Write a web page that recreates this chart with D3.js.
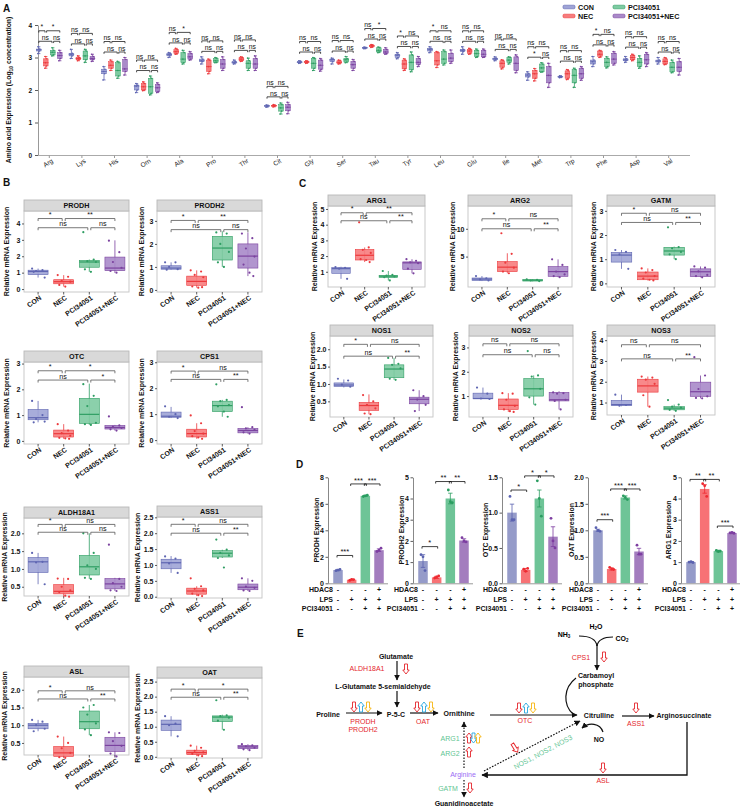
<!DOCTYPE html>
<html><head><meta charset="utf-8">
<script src="https://cdn.jsdelivr.net/npm/d3@7"></script>
<style>body{margin:0;background:#fff}svg{display:block;font-family:"Liberation Sans",Arial,sans-serif}</style>
</head><body><svg id="fig" width="740" height="809"></svg>
<script>
// ---------------- DATA ----------------
const groups = ["CON","NEC","PCI34051","PCI34051+NEC"];
const aminoAcids = ["Arg","Lys","His","Orn","Ala","Pro","Thr","Cit","Gly","Ser","Tau","Tyr","Leu","Glu","Ile","Met","Trp","Phe","Asp","Val"];
const aTicks = [0,1,2,3,4];
// [min, q1, median, q3, max] (Log10 concentration)
const aaCON = [[3.12,3.2,3.24,3.26,3.33],[2.97,3.05,3.1,3.13,3.25],[2.31,2.5,2.57,2.64,2.72],[1.92,2.0,2.12,2.15,2.2],[3.0,3.05,3.09,3.12,3.15],[2.8,2.87,2.9,2.95,3.02],[2.8,2.83,2.84,2.88,2.92],[1.47,1.49,1.51,1.52,1.54],[2.82,2.84,2.85,2.88,2.9],[2.8,2.87,2.93,2.95,2.98],[3.27,3.28,3.3,3.31,3.32],[2.96,3.0,3.07,3.1,3.15],[3.15,3.2,3.25,3.28,3.33],[3.1,3.18,3.22,3.25,3.33],[2.9,2.93,2.96,2.98,3.02],[2.3,2.4,2.46,2.5,2.56],[2.38,2.39,2.41,2.42,2.44],[2.72,2.8,2.87,2.92,3.03],[2.85,2.9,2.93,2.96,3.03],[2.8,2.86,2.89,2.92,3.0]];
const aaNEC = [[2.67,2.74,2.84,2.96,3.03],[2.9,2.93,2.97,3.0,3.05],[2.6,2.67,2.76,2.87,2.92],[1.98,2.0,2.1,2.2,2.25],[3.1,3.12,3.18,3.24,3.28],[2.5,2.57,2.72,2.92,2.95],[2.88,2.9,2.95,3.0,3.02],[1.48,1.5,1.52,1.53,1.55],[2.82,2.84,2.86,2.88,2.9],[2.8,2.82,2.85,2.9,2.92],[3.31,3.33,3.36,3.38,3.4],[2.6,2.65,2.8,2.92,2.96],[2.69,2.77,2.9,3.15,3.18],[3.1,3.13,3.2,3.25,3.28],[2.65,2.7,2.82,2.9,2.93],[2.28,2.36,2.5,2.6,2.66],[2.32,2.36,2.5,2.59,2.63],[3.0,3.04,3.1,3.2,3.22],[2.9,2.93,3.0,3.07,3.1],[2.78,2.8,2.88,2.96,3.0]];
const aaPCI = [[3.05,3.08,3.16,3.22,3.3],[2.85,2.93,3.05,3.2,3.25],[2.36,2.43,2.6,2.84,2.88],[1.85,1.9,2.1,2.36,2.43],[2.8,2.84,2.95,3.15,3.22],[2.84,2.85,2.9,2.97,3.0],[2.6,2.67,2.82,2.9,2.98],[1.26,1.35,1.45,1.55,1.6],[2.6,2.67,2.82,2.97,3.0],[2.84,2.86,2.93,2.97,3.03],[3.15,3.17,3.22,3.3,3.32],[2.56,2.62,2.85,3.08,3.17],[2.77,2.82,2.95,3.18,3.23],[3.0,3.03,3.12,3.22,3.26],[2.8,2.85,2.92,3.0,3.02],[2.55,2.56,2.68,2.8,2.84],[2.08,2.22,2.45,2.63,2.67],[2.68,2.72,2.85,2.97,3.02],[2.67,2.72,2.85,2.97,3.05],[2.53,2.56,2.7,2.85,2.92]];
const aaPN = [[2.9,2.97,3.06,3.15,3.22],[2.88,2.93,2.97,3.03,3.1],[2.46,2.57,2.65,2.94,3.0],[1.92,1.95,2.07,2.17,2.22],[2.92,2.95,3.02,3.12,3.18],[2.6,2.67,2.8,2.94,3.02],[2.6,2.67,2.8,2.97,3.05],[1.27,1.36,1.47,1.55,1.62],[2.58,2.64,2.76,2.92,2.97],[2.6,2.67,2.78,2.88,2.94],[3.1,3.12,3.17,3.25,3.3],[2.72,2.78,2.85,2.97,3.03],[2.82,2.87,2.98,3.13,3.23],[3.0,3.02,3.1,3.22,3.26],[2.53,2.6,2.82,3.02,3.08],[2.08,2.22,2.45,2.72,2.82],[2.3,2.36,2.5,2.67,2.72],[2.77,2.82,2.95,3.13,3.18],[2.72,2.8,2.93,3.1,3.15],[2.46,2.57,2.7,2.87,2.97]];
// [CON-NEC, NEC-PCI34051+NEC, CON-PCI34051, PCI34051-PCI34051+NEC]
const aaSig = [["*","*","ns","ns"],["ns","ns","ns","ns"],["ns","ns","ns","ns"],["ns","ns","ns","ns"],["ns","*","ns","ns"],["ns","ns","ns","ns"],["ns","ns","ns","ns"],["ns","ns","ns","ns"],["ns","ns","ns","ns"],["ns","ns","ns","ns"],["ns","*","ns","ns"],["*","ns","ns","ns"],["*","ns","ns","ns"],["ns","ns","ns","ns"],["ns","ns","ns","ns"],["ns","ns","*","ns"],["ns","ns","ns","ns"],["*","ns","ns","ns"],["ns","ns","ns","ns"],["ns","ns","ns","ns"]];

// Panels B & C: box stats per group [min,q1,med,q3,max], individual points, significance, bracket levels
const PRODH_box = [[0.7,0.88,1.07,1.15,1.25],[0.15,0.32,0.45,0.57,0.85],[1.05,1.33,1.65,1.75,1.8],[0.98,1.12,1.28,1.95,2.97]];
const PRODH_pts = [[1.25,1.15,1.1,0.7,1.05],[0.85,0.75,0.5,0.45,0.25,0.15],[3.47,1.8,1.7,1.65,1.2,1.05],[2.95,2.25,1.65,1.3,1.1,1.0]];
const PRODH_sig = ["*","**","ns","ns"], PRODH_sigY = [4.3,3.74];
const PRODH2_box = [[0.88,0.9,0.95,1.05,1.2],[0.1,0.2,0.37,0.6,0.85],[1.0,1.3,1.82,2.33,2.55],[0.6,0.95,1.47,2.0,2.5]];
const PRODH2_pts = [[1.2,1.2,1.0,0.9,0.88],[0.85,0.8,0.65,0.55,0.15,0.1,0.12],[2.5,2.45,2.0,1.65,1.2,1.0],[2.45,2.25,1.8,1.45,1.1,0.75,0.6]];
const PRODH2_sig = ["*","**","ns","ns"], PRODH2_sigY = [3.02,2.62];
const OTC_box = [[0.72,0.82,0.9,1.22,1.55],[0.08,0.15,0.28,0.42,0.65],[0.62,0.68,1.03,1.65,2.22],[0.4,0.46,0.52,0.6,0.62]];
const OTC_pts = [[1.55,1.0,0.85,0.75,0.72],[0.65,0.4,0.3,0.2,0.12,0.1,0.08],[2.2,1.75,1.35,0.7,0.65,0.62],[0.95,0.6,0.55,0.5,0.45,0.4]];
const OTC_sig = ["*","*","ns","*"], OTC_sigY = [2.72,2.36];
const CPS1_box = [[0.85,0.88,0.92,1.08,1.28],[0.05,0.12,0.25,0.42,0.65],[0.9,1.1,1.33,1.5,1.55],[0.25,0.28,0.37,0.45,0.5]];
const CPS1_pts = [[1.3,1.0,0.9,0.85],[0.95,0.65,0.35,0.25,0.15,0.1,0.05],[2.15,1.55,1.5,1.35,1.3,1.1,0.9],[1.27,0.5,0.45,0.4,0.3,0.25]];
const CPS1_sig = ["*","ns","ns","**"], CPS1_sigY = [2.66,2.34];
const ALDH_box = [[0.57,0.9,1.2,1.32,1.45],[0.22,0.3,0.37,0.56,0.75],[0.72,0.83,1.06,1.38,2.0],[0.38,0.44,0.58,0.73,0.75]];
const ALDH_pts = [[1.45,1.2,1.18,0.57],[0.73,0.72,0.5,0.4,0.35,0.25,0.22],[2.0,1.45,1.1,1.0,0.75,0.72],[1.68,0.72,0.6,0.5,0.4,0.38]];
const ALDH_sig = ["*","ns","ns","ns"], ALDH_sigY = [2.25,2.03];
const ASS1_box = [[0.75,0.88,1.07,1.18,1.28],[0.02,0.08,0.18,0.27,0.33],[1.22,1.25,1.37,1.45,1.48],[0.18,0.22,0.3,0.4,0.58]];
const ASS1_pts = [[1.27,1.2,1.05,0.75],[0.58,0.33,0.25,0.2,0.1,0.05,0.02],[1.8,1.48,1.38,1.3,1.22,0.92],[0.58,0.5,0.32,0.28,0.2,0.18]];
const ASS1_sig = ["*","ns","ns","**"], ASS1_sigY = [2.28,2.0];
const ASL_box = [[0.83,0.9,1.0,1.05,1.15],[0.08,0.12,0.22,0.4,0.68],[0.72,0.9,1.1,1.4,1.57],[0.12,0.26,0.43,0.66,0.8]];
const ASL_pts = [[1.15,1.1,1.0,0.9,0.83],[0.68,0.5,0.35,0.22,0.1,0.08],[1.5,1.57,1.3,1.05,0.88,0.72],[0.8,0.78,0.55,0.42,0.2,0.12]];
const ASL_sig = ["*","ns","ns","**"], ASL_sigY = [1.97,1.74];
const OAT_box = [[0.68,0.88,1.08,1.22,1.35],[0.02,0.07,0.14,0.22,0.37],[0.9,1.17,1.32,1.36,1.4],[0.22,0.27,0.33,0.38,0.42]];
const OAT_pts = [[1.35,1.1,1.05,0.68],[0.37,0.3,0.2,0.15,0.1,0.05,0.02],[1.88,1.38,1.35,1.3,1.2,0.9],[0.42,0.38,0.35,0.3,0.25,0.22]];
const OAT_sig = ["*","*","ns","**"], OAT_sigY = [2.25,1.98];
const ARG1_box = [[0.55,0.9,1.2,1.27,1.32],[1.62,1.75,2.05,2.42,2.55],[0.45,0.63,0.72,0.77,1.05],[0.9,1.15,1.57,1.63,1.8]];
const ARG1_pts = [[1.3,1.25,1.2,0.55],[4.15,2.55,2.4,2.2,1.8,1.75,1.62],[1.05,0.8,0.75,0.7,0.65,0.45],[1.8,1.7,1.6,1.55,1.2,0.9]];
const ARG1_sig = ["*","**","ns","**"], ARG1_sigY = [4.76,4.25];
const ARG2_box = [[0.6,0.7,0.95,1.15,1.5],[2.0,2.3,3.1,4.1,5.6],[0.55,0.6,0.75,0.85,0.95],[1.3,1.45,2.3,3.2,4.5]];
const ARG2_pts = [[1.5,1.1,0.9,0.7],[9.2,5.5,3.9,3.0,2.3,2.0],[0.9,0.8,0.7,0.6],[4.5,3.5,2.3,1.8,1.5,1.3]];
const ARG2_sig = ["*","ns","ns","**"], ARG2_sigY = [11.8,10.0];
const GATM_box = [[0.6,0.88,1.17,1.28,1.38],[0.12,0.15,0.3,0.47,0.62],[1.0,1.17,1.34,1.49,1.52],[0.25,0.28,0.48,0.6,0.7]];
const GATM_pts = [[1.38,1.3,1.2,0.6],[0.62,0.55,0.45,0.3,0.2,0.15,0.12],[2.32,1.5,1.45,1.3,1.2,1.0],[0.7,0.65,0.5,0.35,0.3,0.25]];
const GATM_sig = ["*","ns","ns","**"], GATM_sigY = [2.9,2.52];
const NOS1_box = [[0.9,0.93,0.97,1.03,1.13],[0.13,0.24,0.38,0.47,0.7],[1.12,1.18,1.43,1.55,1.75],[0.22,0.43,0.56,0.62,0.82]];
const NOS1_pts = [[1.15,1.1,0.98,0.92],[0.68,0.5,0.4,0.3,0.15,0.13],[1.75,1.58,1.55,1.45,1.15,1.12],[0.82,0.65,0.55,0.4,0.22]];
const NOS1_sig = ["*","ns","ns","**"], NOS1_sigY = [2.14,1.8];
const NOS2_box = [[0.88,0.89,0.9,1.12,1.35],[0.35,0.45,0.62,0.88,1.12],[0.65,1.0,1.3,1.72,1.85],[0.45,0.8,0.85,1.15,1.2]];
const NOS2_pts = [[1.35,1.1,0.9,0.88],[1.12,1.1,0.85,0.6,0.45,0.38,0.35],[2.85,1.85,1.8,1.3,0.95,0.65],[1.15,1.12,1.1,0.85,0.8,0.45]];
const NOS2_sig = ["ns","ns","ns","ns"], NOS2_sigY = [3.15,2.7];
const NOS3_box = [[0.82,0.85,0.9,1.1,1.38],[0.8,1.5,1.8,2.12,2.25],[0.6,0.65,0.73,0.8,0.9],[1.2,1.3,1.52,1.98,2.3]];
const NOS3_pts = [[1.38,0.88,0.85],[2.25,2.2,2.1,1.9,1.35,0.8],[1.12,0.9,0.8,0.75,0.65,0.6],[3.18,2.3,1.65,1.3,1.22,1.2]];
const NOS3_sig = ["ns","ns","ns","**"], NOS3_sigY = [3.78,3.1];

// Panel D: mean, SEM, replicate points, significance [from, to, label, level]
const dMean_PRODH = [1.0,0.27,6.6,2.5],  dSem_PRODH = [0.05,0.03,0.05,0.1];
const dPts_PRODH = [[0.95,1.0,1.05],[0.22,0.3,0.28],[6.55,6.6,6.65],[2.4,2.5,2.65]];
const dSig_PRODH = [[0,1,"***",2.1],[1,2,"***",7.5],[2,3,"***",7.5]];
const dMean_PRODH2 = [1.05,0.28,4.0,2.02], dSem_PRODH2 = [0.3,0.05,0.25,0.08];
const dPts_PRODH2 = [[1.35,1.25,0.6],[0.25,0.3,0.35],[4.4,3.85,3.8],[2.15,2.0,1.95]];
const dSig_PRODH2 = [[0,1,"*",1.73],[1,2,"**",4.8],[2,3,"**",4.8]];
const dMean_OTC = [1.0,0.19,1.2,0.66], dSem_OTC = [0.12,0.02,0.12,0.14];
const dPts_OTC = [[1.23,0.9,0.9],[0.2,0.17,0.21],[1.45,1.2,0.95],[0.92,0.6,0.5]];
const dSig_OTC = [[0,1,"*",1.32],[1,2,"*",1.52],[2,3,"*",1.52]];
const dMean_OAT = [1.0,0.27,1.62,0.6], dSem_OAT = [0.02,0.02,0.03,0.06];
const dPts_OAT = [[1.05,1.0,0.98],[0.3,0.27,0.26],[1.65,1.62,1.58],[0.72,0.55,0.55]];
const dSig_OAT = [[0,1,"***",1.2],[1,2,"***",1.78],[2,3,"***",1.78]];
const dMean_ARG1 = [1.0,4.45,1.52,2.37], dSem_ARG1 = [0.03,0.2,0.04,0.03];
const dPts_ARG1 = [[1.0,1.02,0.98],[4.7,4.6,4.1],[1.55,1.5,1.52],[2.38,2.4,2.36]];
const dSig_ARG1 = [[0,1,"**",4.9],[1,2,"**",4.9],[2,3,"***",2.7]];
const dHDAC8 = ["-","-","-","+"], dLPS = ["-","+","+","+"], dPCI = ["-","-","+","+"];

// ---------------- STYLE ----------------
const FONT = '"Liberation Sans", Arial, sans-serif';
const fillC = ["#9fa4d6","#f77c7d","#7ecba2","#a98ac9"];
const strokeC = ["#5f66b2","#ec3a3d","#2f9e63","#7b429f"];
const fillD = ["#959bc9","#f77275","#6ec497","#a37dbe"];
const strokeD = ["#5a62b0","#ee2a31","#2a9d60","#7d3ea1"];
const jit = [-0.3,0.22,-0.1,0.33,-0.22,0.08,0.27,-0.35];
const RED="#e4262c", BLUE="#29a8e0", YEL="#f6b511", GRN="#5fc593", PUR="#9b6cf5";

const svg = d3.select("#fig");
svg.append("rect").attr("width",740).attr("height",809).attr("fill","#fff");
const defs = svg.append("defs");
defs.append("marker").attr("id","ah").attr("viewBox","0 0 10 10").attr("refX",9).attr("refY",5)
  .attr("markerWidth",5).attr("markerHeight",5).attr("orient","auto-start-reverse")
  .append("path").attr("d","M0,0L10,5L0,10z").attr("fill","#111");

function txt(g,x,y,s,o={}){
  const t=g.append("text").attr("x",x).attr("y",y).attr("font-family",FONT)
    .attr("font-size",o.fs||7).attr("font-weight",o.bold===false?"normal":"bold")
    .attr("fill",o.fill||"#111").attr("text-anchor",o.anchor||"middle");
  if(o.dom) t.attr("dominant-baseline",o.dom);
  t.text(s); return t;
}
function bracket(g,xa,xb,yy,label,fs,color,tk){
  g.append("path").attr("d",`M${xa},${yy+tk}V${yy}H${xb}V${yy+tk}`).attr("fill","none")
    .attr("stroke",color).attr("stroke-width",0.8);
  txt(g,(xa+xb)/2,yy-1.3,label,{fs:fs,bold:false});
}
function styleAxis(ax,fs){
  ax.attr("font-family",FONT);
  ax.selectAll("text").attr("font-size",fs).attr("font-weight","bold").attr("fill","#111");
  ax.selectAll(".tick line").attr("stroke","#333").attr("stroke-width",0.8);
}

// ---------------- PANEL LABELS ----------------
[["A",3,12],["B",3,186],["C",299,187],["D",296,468],["E",297,637]].forEach(d=>txt(svg,d[1],d[2],d[0],{fs:10,anchor:"start"}));

// ---------------- PANEL A ----------------
(function(){
  const g = svg.append("g");
  const x = d3.scaleBand().domain(aminoAcids).range([33,685]);
  const y = d3.scaleLinear().domain([0,4]).range([155,25]);
  const sub = [-10.5,-3.5,3.5,10.5], bw = 4.6;
  const ya = g.append("g").attr("transform","translate(38,0)")
    .call(d3.axisLeft(y).tickValues(aTicks).tickSize(3).tickSizeOuter(0).tickFormat(d3.format("d")));
  ya.select(".domain").attr("stroke","#999");
  styleAxis(ya,6.5);
  g.append("line").attr("x1",38).attr("x2",690).attr("y1",155.5).attr("y2",155.5).attr("stroke","#aaa").attr("stroke-width",1);
  aminoAcids.forEach(a=>{
    const cx = x(a)+x.bandwidth()/2;
    g.append("line").attr("x1",cx).attr("x2",cx).attr("y1",155.5).attr("y2",158).attr("stroke","#999");
    txt(g,0,0,a,{fs:6.5,bold:false,anchor:"end",fill:"#1a1a1a"}).attr("x",null).attr("y",null)
      .attr("transform",`translate(${cx+3},${160}) rotate(-33)`).attr("dy","0.35em");
  });
  const yl = g.append("text").attr("transform","translate(11,90) rotate(-90)").attr("text-anchor","middle")
    .attr("font-family",FONT).attr("font-size",6.8).attr("font-weight","bold").attr("fill","#111");
  yl.append("tspan").text("Amino acid Expression (Log");
  yl.append("tspan").attr("font-size",5).attr("dy",1.5).text("10");
  yl.append("tspan").attr("dy",-1.5).text(" concentration)");
  const sets = [aaCON,aaNEC,aaPCI,aaPN];
  aminoAcids.forEach((a,i)=>{
    const cx0 = x(a)+x.bandwidth()/2;
    let top = 0;
    sets.forEach((set,k)=>{
      const s=set[i], cx=cx0+sub[k];
      top = Math.max(top,s[4]);
      g.append("line").attr("x1",cx).attr("x2",cx).attr("y1",y(s[0])).attr("y2",y(s[4])).attr("stroke",strokeC[k]).attr("stroke-width",0.8);
      [s[0],s[4]].forEach(v=>g.append("line").attr("x1",cx-1.6).attr("x2",cx+1.6).attr("y1",y(v)).attr("y2",y(v)).attr("stroke",strokeC[k]).attr("stroke-width",0.8));
      g.append("rect").attr("x",cx-bw/2).attr("y",y(s[3])).attr("width",bw).attr("height",Math.max(0.6,y(s[1])-y(s[3])))
        .attr("fill",fillC[k]).attr("stroke",strokeC[k]).attr("stroke-width",0.5);
      g.append("line").attr("x1",cx-bw/2-0.5).attr("x2",cx+bw/2+0.5).attr("y1",y(s[2])).attr("y2",y(s[2])).attr("stroke",strokeC[k]).attr("stroke-width",0.8);
      s.forEach((v,j)=>g.append("circle").attr("cx",cx+jit[j]*3).attr("cy",y(v)).attr("r",0.8).attr("fill",strokeC[k]));
    });
    const r2 = y(top)-5.5, r1 = r2-10.5;
    const xs = sub.map(o=>cx0+o), sg = aaSig[i];
    bracket(g,xs[0],xs[1]-0.8,r1,sg[0],6.8,"#222",1.8);
    bracket(g,xs[1]+0.8,xs[3],r1,sg[1],6.8,"#222",1.8);
    bracket(g,xs[0],xs[2]-0.8,r2,sg[2],6.8,"#222",1.8);
    bracket(g,xs[2]+0.8,xs[3],r2,sg[3],6.8,"#222",1.8);
  });
  [[0,563,7],[1,563,16],[2,613,7],[3,613,16]].forEach(([k,lx,ly])=>{
    g.append("rect").attr("x",lx).attr("y",ly-1.8).attr("width",12).attr("height",3.6).attr("rx",1.2)
      .attr("fill",fillC[k]).attr("stroke",strokeC[k]).attr("stroke-width",0.6);
    txt(g,lx+15,ly,groups[k],{fs:7.2,anchor:"start",dom:"central"});
  });
})();

// ---------------- PANELS B & C ----------------
function boxPanel(title,L,box,pts,sig,sigY){
  const g = svg.append("g"), hh=11;
  const y = d3.scaleLinear().domain(L.dom).range([L.bottom,L.top+hh]);
  const x = d3.scalePoint().domain(groups).range([L.x0,L.x1]).padding(0.55);
  const w = x.step()*0.78;
  g.append("rect").attr("x",L.x0).attr("y",L.top+hh).attr("width",L.x1-L.x0).attr("height",L.bottom-L.top-hh)
    .attr("fill","#fff").attr("stroke","#c4c4c4").attr("stroke-width",0.9);
  g.append("rect").attr("x",L.x0).attr("y",L.top).attr("width",L.x1-L.x0).attr("height",hh)
    .attr("fill","#d9d9d9").attr("stroke","#b8b8b8").attr("stroke-width",0.9);
  txt(g,(L.x0+L.x1)/2,L.top+hh/2,title,{fs:7.2,dom:"central"});
  const ya = g.append("g").attr("transform",`translate(${L.x0},0)`)
    .call(d3.axisLeft(y).tickValues(L.ticks).tickSize(2).tickPadding(1.5).tickFormat(d3.format(L.fmt||"d")));
  ya.select(".domain").remove(); styleAxis(ya,7);
  groups.forEach(gr=>{
    const cx=x(gr);
    g.append("line").attr("x1",cx).attr("x2",cx).attr("y1",L.bottom).attr("y2",L.bottom+2.5).attr("stroke","#333").attr("stroke-width",0.8);
    txt(g,0,0,gr,{fs:7}).attr("x",null).attr("y",null)
      .attr("transform",`translate(${cx+2.5},${L.bottom+5}) rotate(-34)`).attr("text-anchor","end").attr("dy","0.35em");
  });
  txt(g,0,0,"Relative mRNA Expression",{fs:7}).attr("x",null).attr("y",null)
    .attr("transform",`translate(${L.ylx},${(L.top+hh+L.bottom)/2}) rotate(-90)`).attr("dy","0.35em");
  box.forEach((s,k)=>{
    const cx=x(groups[k]);
    g.append("line").attr("x1",cx).attr("x2",cx).attr("y1",y(s[0])).attr("y2",y(s[4])).attr("stroke",strokeC[k]).attr("stroke-width",0.8);
    g.append("rect").attr("x",cx-w/2).attr("y",y(s[3])).attr("width",w).attr("height",y(s[1])-y(s[3]))
      .attr("fill",fillC[k]).attr("stroke",strokeC[k]).attr("stroke-width",0.6).attr("fill-opacity",0.9);
    g.append("line").attr("x1",cx-w/2).attr("x2",cx+w/2).attr("y1",y(s[2])).attr("y2",y(s[2])).attr("stroke",strokeC[k]).attr("stroke-width",1.2);
    pts[k].forEach((v,j)=>g.append("circle").attr("cx",cx+jit[j]*w).attr("cy",y(v)).attr("r",1.1).attr("fill",strokeC[k]));
  });
  const xs = groups.map(gr=>x(gr)), r1=y(sigY[0]), r2=y(sigY[1]);
  bracket(g,xs[0],xs[1]-1.5,r1,sig[0],7.2,"#555",2.5);
  bracket(g,xs[1]+1.5,xs[3],r1,sig[1],7.2,"#555",2.5);
  bracket(g,xs[0],xs[2]-1.5,r2,sig[2],7.2,"#555",2.5);
  bracket(g,xs[2]+1.5,xs[3],r2,sig[3],7.2,"#555",2.5);
}
boxPanel("PRODH",{x0:24,x1:129,top:200,bottom:292,dom:[-0.18,4.76],ticks:[0,1,2,3,4],ylx:7},PRODH_box,PRODH_pts,PRODH_sig,PRODH_sigY);
boxPanel("PRODH2",{x0:157,x1:262,top:200,bottom:292,dom:[-0.09,3.43],ticks:[0,1,2,3],ylx:142},PRODH2_box,PRODH2_pts,PRODH2_sig,PRODH2_sigY);
boxPanel("OTC",{x0:24,x1:129,top:351,bottom:444,dom:[-0.12,3.06],ticks:[0,1,2,3],ylx:7},OTC_box,OTC_pts,OTC_sig,OTC_sigY);
boxPanel("CPS1",{x0:157,x1:262,top:351,bottom:444,dom:[-0.15,3.01],ticks:[0,1,2,3],ylx:142},CPS1_box,CPS1_pts,CPS1_sig,CPS1_sigY);
boxPanel("ALDH18A1",{x0:24,x1:129,top:507,bottom:596,dom:[0.24,2.43],ticks:[0.5,1,1.5,2],fmt:".1f",ylx:5},ALDH_box,ALDH_pts,ALDH_sig,ALDH_sigY);
boxPanel("ASS1",{x0:157,x1:262,top:506,bottom:598,dom:[-0.04,2.51],ticks:[0,0.5,1,1.5,2,2.5],fmt:".1f",ylx:138},ASS1_box,ASS1_pts,ASS1_sig,ASS1_sigY);
boxPanel("ASL",{x0:24,x1:129,top:666,bottom:755,dom:[0.16,2.36],ticks:[0.5,1,1.5,2],fmt:".1f",ylx:5},ASL_box,ASL_pts,ASL_sig,ASL_sigY);
boxPanel("OAT",{x0:157,x1:262,top:667,bottom:758,dom:[-0.04,2.62],ticks:[0,0.5,1,1.5,2,2.5],fmt:".1f",ylx:138},OAT_box,OAT_pts,OAT_sig,OAT_sigY);
boxPanel("ARG1",{x0:328,x1:425,top:195,bottom:287,dom:[0.03,5.19],ticks:[1,2,3,4,5],ylx:315},ARG1_box,ARG1_pts,ARG1_sig,ARG1_sigY);
boxPanel("ARG2",{x0:468,x1:572,top:195,bottom:287,dom:[-0.47,14.1],ticks:[5,10],ylx:453},ARG2_box,ARG2_pts,ARG2_sig,ARG2_sigY);
boxPanel("GATM",{x0:607,x1:715,top:195,bottom:287,dom:[-0.15,3.2],ticks:[0,1,2,3],ylx:594},GATM_box,GATM_pts,GATM_sig,GATM_sigY);
boxPanel("NOS1",{x0:330,x1:433,top:325,bottom:417,dom:[0.05,2.38],ticks:[0.5,1,1.5,2],fmt:".1f",ylx:313},NOS1_box,NOS1_pts,NOS1_sig,NOS1_sigY);
boxPanel("NOS2",{x0:469,x1:573,top:325,bottom:417,dom:[0.14,3.47],ticks:[1,2,3],ylx:456},NOS2_box,NOS2_pts,NOS2_sig,NOS2_sigY);
boxPanel("NOS3",{x0:607,x1:715,top:325,bottom:415,dom:[0.4,4.2],ticks:[1,2,3,4],ylx:594},NOS3_box,NOS3_pts,NOS3_sig,NOS3_sigY);

// ---------------- PANEL D ----------------
function barPanel(name,ax,ymax,ticks,fmt,mean,sem,pts,sigs,labOff){
  const g = svg.append("g");
  const y = d3.scaleLinear().domain([0,ymax]).range([583.3,477.3]);
  const x = d3.scalePoint().domain(groups).range([ax+10,ax+51]);
  const bw = 9.5;
  mean.forEach((m,k)=>{
    const cx=x(groups[k]);
    g.append("rect").attr("x",cx-bw/2).attr("y",y(m)).attr("width",bw).attr("height",y(0)-y(m)).attr("fill",fillD[k]);
    const e1=y(m-sem[k]), e2=y(m+sem[k]);
    g.append("path").attr("d",`M${cx},${e1}V${e2}M${cx-2.2},${e2}H${cx+2.2}M${cx-2.2},${e1}H${cx+2.2}`).attr("stroke",strokeD[k]).attr("stroke-width",0.8).attr("fill","none");
    pts[k].forEach((v,j)=>g.append("circle").attr("cx",cx+[-2,0,2][j]).attr("cy",y(v)).attr("r",1.4).attr("fill",strokeD[k]));
  });
  const ya = g.append("g").attr("transform",`translate(${ax},0)`)
    .call(d3.axisLeft(y).tickValues(ticks).tickSize(2.5).tickPadding(1.5).tickSizeOuter(0).tickFormat(d3.format(fmt)));
  ya.select(".domain").attr("stroke","#888"); styleAxis(ya,7);
  g.append("line").attr("x1",ax).attr("x2",ax+60).attr("y1",583.8).attr("y2",583.8).attr("stroke","#999").attr("stroke-width",1);
  txt(g,0,0,name+" Expression",{fs:7}).attr("x",null).attr("y",null)
    .attr("transform",`translate(${ax-labOff},530) rotate(-90)`).attr("dy","0.35em");
  [["HDAC8",dHDAC8,589],["LPS",dLPS,599],["PCI34051",dPCI,608]].forEach(([lab,arr,ry])=>{
    txt(g,ax+5,ry,lab,{fs:7,anchor:"end",dom:"central"});
    arr.forEach((s,k)=>txt(g,x(groups[k]),ry,s,{fs:7,dom:"central"}));
  });
  sigs.forEach(([a,b,lab,lv])=>bracket(g,x(groups[a])-1,x(groups[b])+1,y(lv),lab,7.5,"#111",2));
}
barPanel("PRODH",328,8,[0,2,4,6,8],"d",dMean_PRODH,dSem_PRODH,dPts_PRODH,dSig_PRODH,11);
barPanel("PRODH2",413,5,[0,1,2,3,4,5],"d",dMean_PRODH2,dSem_PRODH2,dPts_PRODH2,dSig_PRODH2,11);
barPanel("OTC",502,1.5,[0,0.5,1,1.5],".1f",dMean_OTC,dSem_OTC,dPts_OTC,dSig_OTC,16);
barPanel("OAT",588,2,[0,0.5,1,1.5,2],".1f",dMean_OAT,dSem_OAT,dPts_OAT,dSig_OAT,16);
barPanel("ARG1",681,5,[0,1,2,3,4,5],"d",dMean_ARG1,dSem_ARG1,dPts_ARG1,dSig_ARG1,12);

// ---------------- PANEL E (pathway diagram) ----------------
(function(){
  const g = svg.append("g");
  const T=(x,y,s,o={})=>txt(g,x,y,s,Object.assign({dom:"central"},o));
  const line=(d,o={})=>{const p=g.append("path").attr("d",d).attr("fill","none").attr("stroke","#111").attr("stroke-width",o.w||1.2);
    if(o.dash) p.attr("stroke-dasharray","1.6,1.4"); if(o.arrow!==false) p.attr("marker-end","url(#ah)"); return p;};
  function hollow(cx,cy,dir,color,rot=0){
    const s=dir;
    const d=`M-1.5,${-5*s}L1.5,${-5*s}L1.5,${1*s}L3.2,${1*s}L0,${5*s}L-3.2,${1*s}L-1.5,${1*s}Z`;
    g.append("path").attr("d",d).attr("transform",`translate(${cx},${cy}) rotate(${rot})`)
      .attr("fill","#fff").attr("stroke",color).attr("stroke-width",0.9);
  }
  const nh=g.append("text").attr("x",564).attr("y",634).attr("font-family",FONT).attr("font-size",7).attr("font-weight","bold").attr("text-anchor","middle").attr("dominant-baseline","central");
  nh.append("tspan").text("NH"); nh.append("tspan").attr("font-size",4.5).attr("dy",2).text("3");
  const h2o=g.append("text").attr("x",596).attr("y",626).attr("font-family",FONT).attr("font-size",7).attr("font-weight","bold").attr("text-anchor","middle").attr("dominant-baseline","central");
  h2o.append("tspan").text("H"); h2o.append("tspan").attr("font-size",4.5).attr("dy",2).text("2"); h2o.append("tspan").attr("dy",-2).text("O");
  const co2=g.append("text").attr("x",622).attr("y",638).attr("font-family",FONT).attr("font-size",7).attr("font-weight","bold").attr("text-anchor","middle").attr("dominant-baseline","central");
  co2.append("tspan").text("CO"); co2.append("tspan").attr("font-size",4.5).attr("dy",2).text("2");
  line("M579,636C590,636 596,639 597,646",{arrow:false});
  line("M613,637C603,637 598,640 597,646",{arrow:false});
  line("M597,645V670");
  T(581,657,"CPS1",{bold:false,fill:RED}); hollow(604,657,1,RED);
  T(596,675,"Carbamoyl"); T(596,684,"phosphate");
  line("M576,678C563,688 563,705 573,714",{arrow:false});
  T(396,656,"Glutamate");
  line("M397,661V680");
  T(367,668,"ALDH18A1",{bold:false,fill:RED}); hollow(406,669,1,RED);
  T(383,686,"L-Glutamate 5-semialdehyde");
  line("M397,691V707");
  T(328,714,"Proline"); line("M346,713H382");
  hollow(354,707,1,RED); hollow(361,707,-1,BLUE); hollow(368,707,1,YEL);
  T(363,721,"PRODH",{bold:false,fill:RED}); T(363,729,"PRODH2",{bold:false,fill:RED});
  T(396,714,"P-5-C"); line("M410,713H438");
  hollow(417,707,1,RED); hollow(424,707,-1,BLUE); hollow(431,707,1,YEL);
  T(423,721,"OAT",{bold:false,fill:RED});
  T(459,713,"Ornithine"); line("M490,715H577");
  hollow(519,708,1,RED); hollow(526,708,-1,BLUE); hollow(533,708,1,YEL);
  T(525,720,"OTC",{bold:false,fill:RED});
  T(599,715,"Citrulline"); line("M622,716H654");
  hollow(636,708,1,RED); T(636,723,"ASS1",{bold:false,fill:RED});
  T(684,715,"Arginosuccinate");
  line("M687,722V775H482",{w:1.3});
  hollow(603,768,1,RED); T(603,780,"ASL",{bold:false,fill:RED});
  T(463,774,"Arginine",{bold:false,fill:PUR});
  line("M464,768V722",{dash:true});
  T(450,738,"ARG1",{bold:false,fill:GRN}); hollow(469,738,-1,RED); hollow(473.5,738,1,BLUE); hollow(478,738,-1,YEL);
  T(450,753,"ARG2",{bold:false,fill:GRN}); hollow(469,752,-1,RED);
  line("M484,771L580,721",{dash:true});
  txt(g,0,0,"NOS1, NOS2, NOS3",{bold:false,fill:GRN,fs:7}).attr("x",null).attr("y",null)
    .attr("transform","translate(543,752) rotate(-28)").attr("dominant-baseline","central");
  hollow(515,748,1,RED,-32);
  T(599,739,"NO");
  line("M603,732C600,723 589,722 582,728");
  T(448,788,"GATM",{bold:false,fill:GRN}); hollow(470,788,1,RED);
  line("M464,780V797",{dash:true});
  T(464,803,"Guanidinoacetate");
})();
</script></body></html>
